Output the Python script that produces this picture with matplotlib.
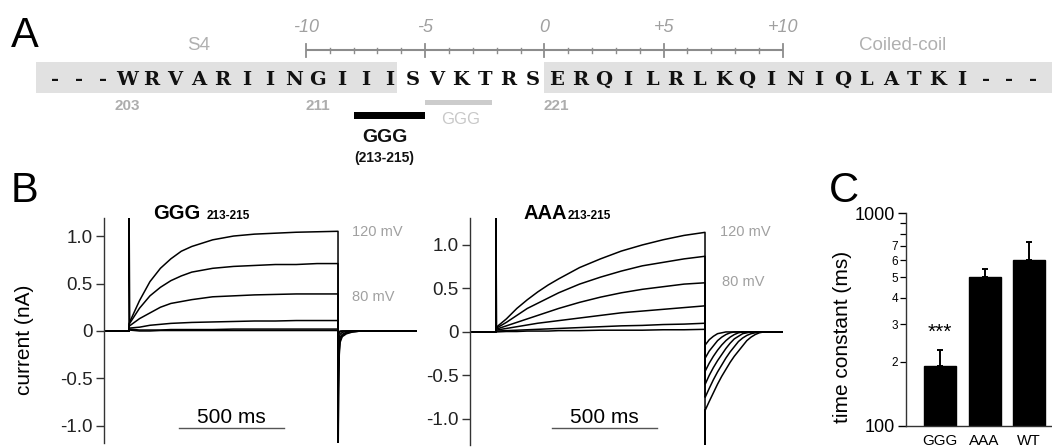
import matplotlib
matplotlib.use("Agg")
import matplotlib.pyplot as plt
from matplotlib.patches import Rectangle
import numpy as np

plt.rcParams['font.family'] = ['Liberation Sans', 'DejaVu Sans']

W, H = 1052, 447
fig = plt.figure(figsize=(W / 100, H / 100), dpi=100)

# ------------------------------------------------------------------ data
sequence = "---WRVARIINGIIISVKTRSERQILRLKQINIQLATKI---"
seq_first_residue = 200
residue_labels = [203, 211, 221]
ruler_ticks = [-10, -5, 0, 5, 10]
ruler_ticklabels = ["-10", "-5", "0", "+5", "+10"]
ruler_zero = 220.5
s4_span = (199.2, 214.3)
cc_span = (220.5, 242.0)
ggg_mutation = (213, 215)
ggg_alt = (216, 218)

# activation traces (nA) during the 1 s pulse
t_pulse = [0, 50, 100, 150, 200, 250, 300, 400, 500, 600, 700, 800, 900, 1000]
ggg_120 = [0.08, 0.32, 0.52, 0.66, 0.76, 0.84, 0.89, 0.96, 1.00, 1.02, 1.03, 1.04, 1.045, 1.05]
ggg_100 = [0.07, 0.24, 0.37, 0.46, 0.53, 0.58, 0.62, 0.66, 0.68, 0.69, 0.70, 0.70, 0.71, 0.71]
ggg_80 = [0.05, 0.13, 0.19, 0.25, 0.29, 0.31, 0.33, 0.36, 0.37, 0.38, 0.385, 0.39, 0.39, 0.39]
ggg_60 = [0.03, 0.04, 0.06, 0.07, 0.08, 0.085, 0.09, 0.095, 0.10, 0.105, 0.105, 0.11, 0.11, 0.11]
ggg_40 = [0.02, 0.01, 0.01, 0.01, 0.015, 0.015, 0.015, 0.015, 0.02, 0.02, 0.02, 0.02, 0.02, 0.02]
ggg_20 = [0.01, 0.0, 0.0, 0.005, 0.005, 0.005, 0.005, 0.005, 0.005, 0.005, 0.005, 0.005, 0.005, 0.005]

aaa_120 = [0.05, 0.15, 0.27, 0.37, 0.46, 0.54, 0.61, 0.74, 0.84, 0.93, 1.00, 1.06, 1.11, 1.145]
aaa_100 = [0.04, 0.11, 0.19, 0.27, 0.33, 0.39, 0.45, 0.55, 0.63, 0.70, 0.76, 0.80, 0.84, 0.87]
aaa_80 = [0.03, 0.07, 0.11, 0.15, 0.19, 0.23, 0.27, 0.34, 0.40, 0.45, 0.49, 0.52, 0.55, 0.565]
aaa_60 = [0.02, 0.04, 0.06, 0.08, 0.10, 0.115, 0.13, 0.16, 0.19, 0.22, 0.24, 0.26, 0.28, 0.30]
aaa_40 = [0.01, 0.015, 0.02, 0.025, 0.03, 0.035, 0.04, 0.05, 0.06, 0.07, 0.075, 0.085, 0.09, 0.10]
aaa_20 = [0.0, 0.005, 0.005, 0.01, 0.01, 0.01, 0.015, 0.015, 0.02, 0.02, 0.02, 0.025, 0.025, 0.03]

# tail currents (nA) after the pulse, time in ms from pulse end
t_tail_ggg = [0, 1, 3, 6, 10, 20, 40, 70, 110, 380]
ggg_tail_120 = [-1.5, -1.2, -0.6, -0.25, -0.12, -0.06, -0.03, -0.01, 0, 0]
ggg_tail_100 = [-1.3, -1.0, -0.45, -0.2, -0.1, -0.05, -0.02, -0.01, 0, 0]
ggg_tail_80 = [-1.0, -0.7, -0.3, -0.14, -0.07, -0.035, -0.015, 0, 0, 0]
ggg_tail_60 = [-0.5, -0.35, -0.15, -0.07, -0.035, -0.015, -0.005, 0, 0, 0]
ggg_tail_40 = [-0.15, -0.1, -0.05, -0.02, -0.01, 0, 0, 0, 0, 0]
ggg_tail_20 = [-0.05, -0.03, -0.02, -0.01, 0, 0, 0, 0, 0, 0]

t_tail_aaa = [0, 1, 20, 40, 60, 80, 100, 120, 140, 160, 180, 200, 220, 240, 260, 280, 380]
aaa_tail_120 = [-1.45, -0.90, -0.80, -0.70, -0.60, -0.51, -0.43, -0.35, -0.28, -0.22, -0.16, -0.10, -0.06, -0.03, -0.01, 0, 0]
aaa_tail_100 = [-0.75, -0.75, -0.65, -0.55, -0.46, -0.38, -0.30, -0.23, -0.17, -0.11, -0.07, -0.04, -0.02, -0.01, 0, 0, 0]
aaa_tail_80 = [-0.60, -0.60, -0.50, -0.41, -0.33, -0.26, -0.19, -0.13, -0.08, -0.05, -0.02, -0.01, 0, 0, 0, 0, 0]
aaa_tail_60 = [-0.45, -0.45, -0.36, -0.28, -0.21, -0.15, -0.10, -0.06, -0.03, -0.01, 0, 0, 0, 0, 0, 0, 0]
aaa_tail_40 = [-0.30, -0.30, -0.22, -0.16, -0.10, -0.06, -0.03, -0.01, 0, 0, 0, 0, 0, 0, 0, 0, 0]
aaa_tail_20 = [-0.15, -0.15, -0.09, -0.05, -0.02, -0.01, 0, 0, 0, 0, 0, 0, 0, 0, 0, 0, 0]

# capacitive onset artifacts
onset_t = [0, 0, 3]
ggg_onset = [0, 1.3, 0.1]
aaa_onset = [0, 1.4, 0.05]

scale_bar_ms = 500
current_ticks = [-1.0, -0.5, 0, 0.5, 1.0]
current_ticklabels = ["-1.0", "-0.5", "0", "0.5", "1.0"]

tau_groups = ["GGG", "AAA", "WT"]
tau_mean = [191, 500, 601]
tau_sem = [37, 46, 130]

# ------------------------------------------------------------------ helpers
def px_axes(left, top, right, bottom):
    return fig.add_axes([left / W, 1 - bottom / H, (right - left) / W, (bottom - top) / H])

def fig_text(x, y, s, **kw):
    return fig.text(x / W, 1 - y / H, s, **kw)

GRAY_TXT = '#a0a0a0'

# ------------------------------------------------------------------ panel A
res_px = 23.85
axA = px_axes(0, 0, W, 170)
axA.set_xlim(203 - 127 / res_px, 203 + (W - 127) / res_px)
axA.set_ylim(170, 0)
axA.axis('off')

for span in (s4_span, cc_span):
    axA.add_patch(Rectangle((span[0], 62), span[1] - span[0], 31,
                            facecolor='#e1e1e1', edgecolor='none'))
for i, ch in enumerate(sequence):
    axA.text(seq_first_residue + i, 85, ch, ha='center', va='baseline',
             family='DejaVu Serif', fontweight='bold', fontsize=14, color='#111111')

# ruler
axA.plot([ruler_zero + ruler_ticks[0], ruler_zero + ruler_ticks[-1]], [50, 50],
         color='#8c8c8c', lw=1.5, solid_capstyle='butt')
for p in range(ruler_ticks[0], ruler_ticks[-1] + 1):
    if p in ruler_ticks:
        axA.plot([ruler_zero + p] * 2, [44, 57], color='#8c8c8c', lw=1.3)
    else:
        axA.plot([ruler_zero + p] * 2, [47.5, 53], color='#8c8c8c', lw=1.0)
for p, lab in zip(ruler_ticks, ruler_ticklabels):
    axA.text(ruler_zero + p, 32, lab, ha='center', va='baseline',
             fontsize=13, style='italic', color=GRAY_TXT)

axA.text(206, 50, "S4", ha='center', va='baseline', fontsize=13.5, color='#b0b0b0')
axA.text(235.5, 50, "Coiled-coil", ha='center', va='baseline', fontsize=13.5, color='#b0b0b0')

for r in residue_labels:
    axA.text(r, 110, str(r), ha='center', va='baseline', fontsize=11,
             fontweight='bold', color='#adadad')

axA.add_patch(Rectangle((ggg_mutation[0] - 0.5, 112), ggg_mutation[1] - ggg_mutation[0] + 1, 7,
                        facecolor='black', edgecolor='none'))
axA.add_patch(Rectangle((ggg_alt[0] - 0.5, 100), ggg_alt[1] - ggg_alt[0] + 0.8, 5,
                        facecolor='#cccccc', edgecolor='none'))
axA.text(sum(ggg_alt) / 2, 124, "GGG", ha='center', va='baseline', fontsize=12, color='#c8c8c8')
axA.text(213.8, 142, "GGG", ha='center', va='baseline', fontsize=14, fontweight='bold', color='#111111')
axA.text(213.8, 162, "(213-215)", ha='center', va='baseline', fontsize=10, fontweight='bold', color='#111111')

fig_text(11, 47, "A", fontsize=30, va='baseline', ha='left')

# ------------------------------------------------------------------ panel B
def trace_panel(rect, xlim, ylim, traces, tails, t_tail, onset):
    ax = px_axes(*rect)
    ax.set_xlim(*xlim)
    ax.set_ylim(*ylim)
    for tr, tl in zip(traces, tails):
        t = np.concatenate([[xlim[0], 0], t_pulse, 1000 + np.asarray(t_tail, float)])
        i = np.concatenate([[0, 0], tr, tl])
        ax.plot(t, i, color='black', lw=1.1, solid_joinstyle='round')
    ax.plot(onset_t, onset, color='black', lw=1.1)
    for s in ('top', 'right', 'bottom'):
        ax.spines[s].set_visible(False)
    ax.spines['left'].set_linewidth(1.0)
    ax.spines['left'].set_color('#333333')
    ax.set_xticks([])
    ax.set_yticks(current_ticks)
    ax.set_yticklabels(current_ticklabels)
    ax.tick_params(axis='y', length=6, width=1.0, color='#333333',
                   labelsize=13.5, pad=2, labelcolor='#222222')
    return ax

axB1 = trace_panel((104, 218, 417, 443), (-120, 1378), (-1.18, 1.19),
                   [ggg_120, ggg_100, ggg_80, ggg_60, ggg_40, ggg_20],
                   [ggg_tail_120, ggg_tail_100, ggg_tail_80, ggg_tail_60, ggg_tail_40, ggg_tail_20],
                   t_tail_ggg, ggg_onset)
axB2 = trace_panel((470, 218, 783, 445), (-124, 1373), (-1.30, 1.31),
                   [aaa_120, aaa_100, aaa_80, aaa_60, aaa_40, aaa_20],
                   [aaa_tail_120, aaa_tail_100, aaa_tail_80, aaa_tail_60, aaa_tail_40, aaa_tail_20],
                   t_tail_aaa, aaa_onset)

# voltage labels
axB1.text(1065, 1.04, "120 mV", fontsize=10.5, color=GRAY_TXT, va='center', ha='left')
axB1.text(1065, 0.36, "80 mV", fontsize=10.5, color=GRAY_TXT, va='center', ha='left')
axB2.text(1072, 1.15, "120 mV", fontsize=10.5, color=GRAY_TXT, va='center', ha='left')
axB2.text(1081, 0.57, "80 mV", fontsize=10.5, color=GRAY_TXT, va='center', ha='left')

# scale bars
axB1.plot([240, 240 + scale_bar_ms], [-1.02, -1.02], color='#555555', lw=1.0)
axB1.text(240 + scale_bar_ms / 2, -0.97, f"{scale_bar_ms} ms", ha='center', va='baseline', fontsize=15)
axB2.plot([268, 268 + scale_bar_ms], [-1.10, -1.10], color='#555555', lw=1.0)
axB2.text(268 + scale_bar_ms / 2, -1.046, f"{scale_bar_ms} ms", ha='center', va='baseline', fontsize=15)

# titles
fig_text(153, 219, "GGG", fontsize=14.5, fontweight='bold', va='baseline')
fig_text(207, 219, "213-215", fontsize=8.5, fontweight='bold', va='baseline')
fig_text(524, 219, "AAA", fontsize=14.5, fontweight='bold', va='baseline')
fig_text(568, 219, "213-215", fontsize=8.5, fontweight='bold', va='baseline')

fig_text(24, 340, "current (nA)", rotation=90, ha='center', va='center', fontsize=15)
fig_text(11, 202, "B", fontsize=30, va='baseline', ha='left')

# ------------------------------------------------------------------ panel C
axC = px_axes(906, 213, W, 426)
axC.set_yscale('log')
axC.set_ylim(100, 1000)
axC.set_xlim(-0.76, 2.51)
x = np.arange(len(tau_groups))
axC.bar(x, np.asarray(tau_mean) - 100, bottom=100, width=0.72, color='black', edgecolor='black')
axC.errorbar(x, tau_mean, yerr=[np.zeros(len(x)), tau_sem], fmt='none', ecolor='black',
             elinewidth=1.4, capsize=2.5, capthick=1.4)
axC.text(0, 259, "***", ha='center', va='baseline', fontsize=15)
for s in ('top', 'right'):
    axC.spines[s].set_visible(False)
for s in ('left', 'bottom'):
    axC.spines[s].set_linewidth(1.0)
    axC.spines[s].set_color('#333333')
axC.set_yticks([100, 1000])
axC.set_yticklabels(["100", "1000"])
minor = [200, 300, 400, 500, 600, 700, 800, 900]
axC.set_yticks(minor, minor=True)
axC.set_yticklabels(["2", "3", "4", "5", "6", "7", "", ""], minor=True)
axC.tick_params(axis='y', which='major', length=6, width=1.0, labelsize=13, pad=2)
axC.tick_params(axis='y', which='minor', length=4, width=0.9, labelsize=8.5, pad=1.5)
axC.set_xticks(x)
axC.set_xticklabels(tau_groups)
axC.tick_params(axis='x', length=0, labelsize=11, pad=6)

fig_text(843, 337, "time constant (ms)", rotation=90, ha='center', va='center', fontsize=15)
fig_text(829, 202, "C", fontsize=30, va='baseline', ha='left')

fig.savefig("out.png", dpi=100)
